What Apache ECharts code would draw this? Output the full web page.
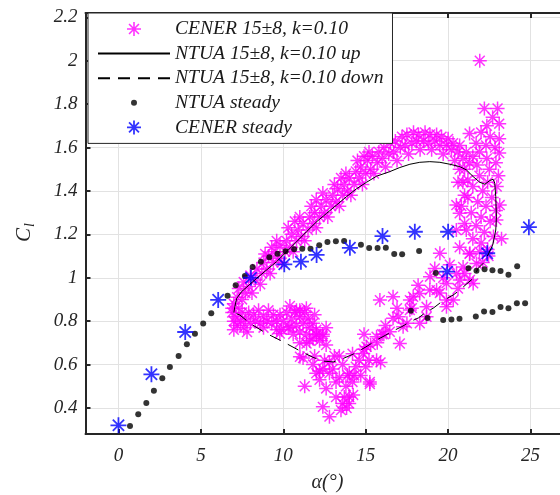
<!DOCTYPE html>
<html>
<head>
<meta charset="utf-8">
<script src="https://cdn.jsdelivr.net/npm/echarts@6/dist/echarts.min.js"></script>
<style>
  html, body { margin: 0; padding: 0; background: #fff; }
  #chart { width: 560px; height: 495px; }
</style>
</head>
<body>
<div id="chart"></div>
<script>
// Tick positions
const xTicks = [0, 5, 10, 15, 20, 25];
const yTicks = [0.4, 0.6, 0.8, 1.0, 1.2, 1.4, 1.6, 1.8, 2.0, 2.2];

// CENER pitching cycle 15±8 deg, k = 0.10  [alpha, Cl]
const cenerCycle = [
  // rising branch
  [6.9,0.84],[7.0,0.88],[7.0,0.80],[7.2,0.91],[7.3,0.86],[7.3,0.95],[7.5,0.90],[7.6,0.98],[7.7,0.93],[7.9,0.96],
  [8.0,1.01],[8.1,0.93],[8.3,0.99],[8.4,1.04],[8.6,0.97],[8.7,1.02],[8.8,1.07],[9.0,1.04],[9.1,1.10],[9.2,1.02],
  [9.4,1.07],[9.5,1.12],[9.7,1.09],[9.8,1.15],[9.9,1.07],[10.1,1.12],[10.2,1.17],[10.4,1.14],[10.5,1.20],[10.6,1.12],
  [10.8,1.17],[10.9,1.22],[11.1,1.19],[11.2,1.25],[11.3,1.17],[11.5,1.22],[11.6,1.28],[11.8,1.25],[11.9,1.30],[12.0,1.23],
  [12.2,1.28],[12.3,1.33],[12.5,1.30],[12.6,1.36],[12.7,1.28],[12.9,1.33],[13.0,1.38],[13.2,1.35],[13.3,1.41],[13.4,1.33],
  [13.6,1.38],[13.7,1.43],[13.9,1.40],[14.0,1.46],[14.1,1.38],[14.3,1.43],[14.4,1.49],[14.6,1.46],[14.7,1.51],[14.8,1.43],
  [15.0,1.48],[15.1,1.54],[15.3,1.50],[15.4,1.56],[15.5,1.48],[15.7,1.53],[15.8,1.58],[16.0,1.55],[16.1,1.60],[16.2,1.51],
  [16.4,1.57],[16.5,1.62],[16.7,1.58],[16.8,1.63],[16.9,1.54],[17.1,1.60],[17.2,1.65],[17.4,1.61],[17.5,1.66],[17.6,1.57],
  [17.8,1.62],[17.9,1.67],[18.1,1.63],[18.2,1.66],[18.3,1.59],[18.5,1.63],[18.6,1.67],[18.8,1.62],[18.9,1.66],[19.0,1.59],
  [19.2,1.63],[19.3,1.66],[19.5,1.61],[19.6,1.65],[19.7,1.57],[19.9,1.61],[20.0,1.64],[20.2,1.59],[20.3,1.62],[20.4,1.54],
  [20.6,1.58],[20.7,1.61],[20.9,1.55],[21.0,1.50],[21.1,1.58],[21.2,1.45],[21.3,1.53],
  [8.9,1.11],[9.3,1.14],[9.6,1.17],[10.3,1.23],[10.7,1.26],[11.0,1.28],[11.7,1.33],[12.0,1.36],[12.4,1.39],[13.1,1.43],
  [13.5,1.46],[13.8,1.48],[14.5,1.54],[14.9,1.56],[15.2,1.58],
  // stall region near maximum incidence
  [21.92,2.0],[22.2,1.78],[23.0,1.78],[22.7,1.74],[22.35,1.70],[23.1,1.71],[21.3,1.665],[22.0,1.67],[22.55,1.65],[23.1,1.64],
  [21.7,1.62],[22.3,1.61],[22.85,1.60],[21.9,1.58],[23.1,1.575],[21.5,1.56],[22.35,1.55],[22.9,1.53],[21.75,1.52],[22.5,1.50],
  [23.05,1.47],[21.9,1.47],[22.4,1.44],[22.95,1.42],[21.5,1.42],[22.1,1.40],[22.65,1.37],[21.8,1.35],[21.2,1.37],[22.3,1.33],
  [22.9,1.31],[21.4,1.30],[22.0,1.28],[22.55,1.26],[21.7,1.24],[22.2,1.21],[22.75,1.19],[21.5,1.18],[22.0,1.16],[22.4,1.13],
  [20.5,1.335],[20.7,1.297],[23.13,1.335],[23.24,1.18],[22.93,1.266],[20.9,1.44],[20.7,1.50],[21.0,1.25],[20.5,1.22],[21.1,1.22],
  [20.7,1.14],[21.3,1.11],[20.6,1.44],[21.0,1.38],[20.8,1.33],
  // falling branch
  [22.45,1.10],[22.1,1.07],[21.72,1.066],[21.32,1.113],[20.91,1.05],[21.52,0.974],[21.32,0.99],[20.71,0.99],[20.51,1.02],[20.1,1.06],
  [19.5,1.113],[19.19,1.043],[19.7,1.00],[19.9,0.974],[19.3,0.943],[18.9,1.005],[18.89,0.943],[18.18,0.966],[17.88,0.912],[18.28,0.928],
  [17.68,0.897],[19.9,0.897],[20.31,0.897],[19.9,0.866],[18.69,0.866],[17.68,0.851],[18.69,0.82],[18.28,0.79],[17.27,0.774],[17.07,0.697],
  [16.66,0.913],[15.86,0.897],[16.66,0.813],[16.46,0.751],[17.0,0.82],[16.2,0.78],[15.66,0.728],[15.3,0.69],[15.05,0.682],[14.85,0.651],
  [15.66,0.62],[15.25,0.52],[16.0,0.74],[17.5,0.79],[17.8,0.86],[16.9,0.86],[19.5,0.93],[20.6,0.95],[21.0,1.02],[21.9,1.12],
  // deep stall cloud
  [11.3,0.50],[11.8,0.60],[12.0,0.56],[12.2,0.57],[12.2,0.53],[12.4,0.405],[12.5,0.62],[12.8,0.61],[12.8,0.56],[12.6,0.49],
  [12.8,0.36],[13.0,0.58],[13.2,0.45],[13.2,0.52],[13.4,0.64],[13.4,0.54],[13.5,0.39],[13.6,0.42],[13.6,0.60],[13.8,0.50],
  [13.9,0.55],[13.84,0.40],[14.0,0.56],[14.0,0.45],[14.0,0.42],[14.2,0.65],[14.2,0.52],[14.24,0.46],[14.4,0.59],[14.3,0.55],
  [14.6,0.62],[14.9,0.67],[14.9,0.74],[15.2,0.62],[15.25,0.51],[15.0,0.59],[15.7,0.70],[15.9,0.61],[16.1,0.74],[11.6,0.71],
  [11.0,0.70],[11.2,0.63],[12.4,0.74],[12.0,0.74],[13.1,0.64],[12.4,0.58],[11.9,0.64],[14.7,0.55],[13.7,0.45],
  // reattachment band at low incidence
  [6.9,0.86],[7.0,0.76],[7.1,0.82],[7.2,0.78],[7.4,0.80],[7.5,0.84],[7.6,0.77],[7.7,0.81],[7.9,0.84],[8.0,0.79],
  [8.2,0.83],[8.3,0.80],[8.5,0.85],[8.6,0.79],[8.8,0.82],[9.0,0.80],[9.1,0.85],[9.3,0.79],[9.4,0.83],[9.6,0.80],
  [9.8,0.83],[9.9,0.76],[10.0,0.80],[10.2,0.84],[10.3,0.77],[10.5,0.81],[10.6,0.74],[10.7,0.84],[10.8,0.78],[11.0,0.82],
  [11.0,0.75],[11.2,0.79],[11.4,0.74],[11.5,0.81],[11.6,0.77],[11.8,0.79],[11.8,0.72],[12.0,0.76],[12.2,0.71],[12.4,0.73],
  [12.6,0.69],[10.4,0.87],[10.8,0.85],[9.6,0.76],[8.8,0.77],[7.8,0.75],[12.6,0.77],[11.4,0.86],[11.9,0.83],[11.0,0.85],
  [11.3,0.84],[9.79,0.743],[11.41,0.697],[11.01,0.636],[12.02,0.736],[10.4,0.774]
];

// NTUA 15±8, k = 0.10, upstroke
const ntuaUp = [
  [7.0,0.84],[7.06,0.866],[7.17,0.905],[7.47,0.936],[7.87,0.963],[8.38,0.997],[8.99,1.036],[9.59,1.074],[10.2,1.12],
  [10.81,1.166],[11.41,1.212],[12.02,1.258],[12.63,1.297],[13.23,1.335],[13.84,1.374],[14.44,1.41],[15.05,1.44],
  [15.66,1.468],[16.46,1.489],[17.07,1.508],[17.68,1.523],[18.28,1.532],[18.89,1.535],[19.5,1.532],[20.11,1.523],
  [20.71,1.512],[21.11,1.497],[21.52,1.466],[21.92,1.44],[22.23,1.431],[22.53,1.448],[22.73,1.454],[22.83,1.436],
  [22.89,1.374],[22.93,1.281],[22.89,1.22],[22.77,1.174],[22.7,1.15]
];

// NTUA 15±8, k = 0.10, downstroke
const ntuaDown = [
  [22.7,1.15],[22.45,1.11],[22.12,1.066],[21.82,1.043],[21.52,0.997],[21.1,0.97],[20.71,0.943],[20.3,0.92],
  [19.7,0.895],[19.1,0.86],[18.69,0.843],[18.2,0.815],[17.68,0.797],[17.2,0.775],[16.66,0.755],[16.2,0.735],
  [15.66,0.713],[15.2,0.69],[14.85,0.674],[14.24,0.648],[13.63,0.628],[13.03,0.612],[12.42,0.616],[11.81,0.633],
  [11.01,0.663],[9.99,0.705],[8.99,0.743],[7.97,0.79],[7.37,0.828],[7.0,0.84]
];

// NTUA steady polar
const ntuaSteady = [
  [0.7,0.317],[1.2,0.371],[1.69,0.423],[2.15,0.479],[2.66,0.537],[3.12,0.589],[3.65,0.639],[4.15,0.693],[4.64,0.742],
  [5.14,0.789],[5.63,0.837],[6.62,0.917],[7.11,0.965],[7.67,1.008],[8.14,1.049],[8.64,1.074],[9.15,1.094],[9.65,1.111],
  [10.14,1.122],[10.66,1.131],[11.15,1.134],[11.65,1.134],[12.18,1.15],[12.68,1.165],[13.19,1.168],[13.69,1.169],
  [14.71,1.152],[15.21,1.137],[15.72,1.137],[16.22,1.138],[16.73,1.109],[17.21,1.108],[18.24,1.123],[19.25,1.022],
  [21.24,1.044],[21.72,1.032],[22.21,1.039],[22.69,1.034],[23.18,1.031],[23.66,1.014],[24.19,1.053],
  [17.74,0.848],[18.75,0.814],[19.70,0.805],[20.2,0.808],[20.69,0.811],[21.68,0.822],[22.18,0.845],[22.69,0.842],
  [23.18,0.865],[23.66,0.86],[24.17,0.882],[24.67,0.883]
];

// CENER steady polar
const cenerSteady = [
  [0,0.32],[2,0.555],[4.05,0.75],[6.05,0.898],[8.04,1.0],[10.06,1.062],[11.07,1.074],[12.02,1.105],[14.04,1.138],
  [16.02,1.192],[17.98,1.212],[20.0,1.212],[19.94,1.028],[22.37,1.113],[24.9,1.233]
];

const seriesNames = ['CENER 15±8, k=0.10', 'NTUA 15±8, k=0.10 up', 'NTUA 15±8, k=0.10 down', 'NTUA steady', 'CENER steady'];

// asterisk marker: plus overlaid with a cross
const STAR = 'path://M0,-10L0,10M-10,0L10,0M-7.07,-7.07L7.07,7.07M-7.07,7.07L7.07,-7.07';
// small dot inside an empty 14x14 box, for the legend
const DOT = 'path://M0,0L0,0M14,14L14,14M7,4A3,3,0,1,1,7,10A3,3,0,1,1,7,4Z';

const FONT = 'Liberation Serif';
const AXIS_COLOR = '#262626';
const tickText = { fontFamily: FONT, fontStyle: 'italic', fontSize: 19, color: AXIS_COLOR };
// line-only legend entries: hide the marker that line series put in the middle
const noMarker = { color: 'rgba(0,0,0,0)', borderWidth: 0 };

const chart = echarts.init(document.getElementById('chart'), null, { renderer: 'canvas' });

chart.setOption({
  animation: false,
  backgroundColor: '#fff',
  grid: { left: 85.5, top: 13, width: 478, height: 421, containLabel: false, outerBoundsMode: 'none' },
  xAxis: [
    {
      type: 'value', min: -2, max: 27, position: 'bottom',
      axisLine: { show: true, onZero: false, lineStyle: { color: AXIS_COLOR, width: 2 } },
      axisTick: { show: true, inside: true, length: 5, customValues: xTicks, lineStyle: { color: AXIS_COLOR, width: 2 } },
      axisLabel: { customValues: xTicks, margin: 12, ...tickText },
      splitLine: { show: true, lineStyle: { color: '#e2e2e2', width: 1 } },
      name: 'α(°)', nameLocation: 'middle', nameGap: 39,
      nameTextStyle: { fontFamily: FONT, fontStyle: 'italic', fontSize: 20, color: AXIS_COLOR, padding: [0, 0, 0, 6] }
    },
    {
      type: 'value', min: -2, max: 27, position: 'top',
      axisLine: { show: true, onZero: false, lineStyle: { color: AXIS_COLOR, width: 2 } },
      axisTick: { show: true, inside: true, length: 5, customValues: xTicks, lineStyle: { color: AXIS_COLOR, width: 2 } },
      axisLabel: { show: false },
      splitLine: { show: false }
    }
  ],
  yAxis: [
    {
      type: 'value', min: 0.28, max: 2.22,
      axisLine: { show: true, onZero: false, lineStyle: { color: AXIS_COLOR, width: 2 } },
      axisTick: { show: true, inside: true, length: 5, customValues: yTicks, lineStyle: { color: AXIS_COLOR, width: 2 } },
      axisLabel: { customValues: yTicks, margin: 8, padding: [8, 0, 0, 0], formatter: v => String(parseFloat(v.toFixed(1))), ...tickText },
      splitLine: { show: true, lineStyle: { color: '#e2e2e2', width: 1 } },
      name: '{c|C}{l|l}', nameLocation: 'middle', nameGap: 48,
      nameTextStyle: {
        padding: [0, 18, 0, 0],
        rich: {
          c: { fontFamily: FONT, fontStyle: 'italic', fontSize: 21, color: AXIS_COLOR, lineHeight: 26 },
          l: { fontFamily: FONT, fontStyle: 'italic', fontSize: 14, color: AXIS_COLOR, lineHeight: 14, verticalAlign: 'bottom', padding: [0, 0, 0, 1] }
        }
      }
    }
  ],
  legend: {
    orient: 'vertical', left: 88, top: 13,
    padding: [6, 9, 6, 9], itemGap: 4.6, itemWidth: 72, itemHeight: 14,
    backgroundColor: '#fff', borderColor: AXIS_COLOR, borderWidth: 1, borderRadius: 0,
    textStyle: { fontFamily: FONT, fontStyle: 'italic', fontSize: 19.6, color: '#1a1a1a' },
    data: [
      { name: seriesNames[0], itemStyle: { borderWidth: 1.6 } },
      { name: seriesNames[1], itemStyle: noMarker },
      { name: seriesNames[2], itemStyle: noMarker },
      { name: seriesNames[3], icon: DOT },
      { name: seriesNames[4], itemStyle: { borderWidth: 1.8 } }
    ]
  },
  series: [
    {
      name: seriesNames[0], type: 'scatter', data: cenerCycle,
      symbol: STAR, symbolSize: 14,
      itemStyle: { color: 'none', borderColor: '#ff00ff', borderWidth: 1.5 },
      emphasis: { disabled: true }
    },
    {
      name: seriesNames[1], type: 'line', data: ntuaUp,
      symbol: 'none', smooth: false,
      lineStyle: { color: '#000', width: 1 },
      itemStyle: { color: '#000' },
      emphasis: { disabled: true }
    },
    {
      name: seriesNames[2], type: 'line', data: ntuaDown,
      symbol: 'none', smooth: false,
      lineStyle: { color: '#000', width: 1, type: [12, 8] },
      itemStyle: { color: '#000' },
      emphasis: { disabled: true }
    },
    {
      name: seriesNames[3], type: 'scatter', data: ntuaSteady,
      symbol: 'circle', symbolSize: 6,
      itemStyle: { color: '#000' },
      emphasis: { disabled: true }
    },
    {
      name: seriesNames[4], type: 'scatter', data: cenerSteady,
      symbol: STAR, symbolSize: 16,
      itemStyle: { color: 'none', borderColor: '#0000ff', borderWidth: 1.8 },
      emphasis: { disabled: true }
    }
  ]
});
</script>
</body>
</html>
